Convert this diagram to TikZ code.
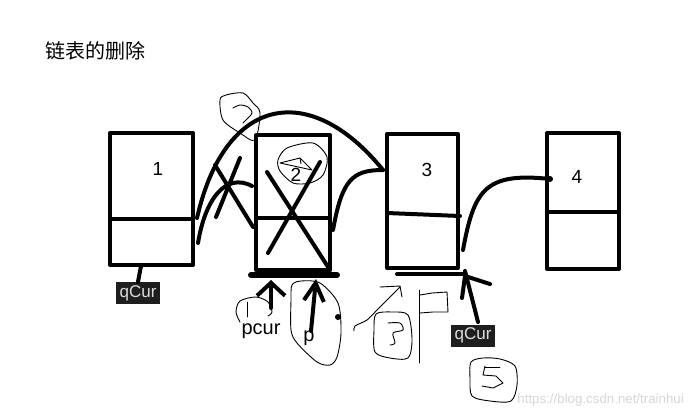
\documentclass[tikz,border=0pt]{standalone}
\usepackage{fontspec}
\setmainfont{Liberation Sans}
\newfontfamily\cjk{Noto Sans CJK SC}
\usetikzlibrary{arrows.meta}
\definecolor{tagbg}{RGB}{30,30,30}
\definecolor{tagfg}{RGB}{220,220,220}
\definecolor{wm}{RGB}{215,215,215}
\begin{document}
\begin{tikzpicture}[x=1pt,y=-1pt,line cap=round,line join=round,
  thickline/.style={line width=4pt},
  pen/.style={line width=0.9pt},
  boxnode/.style={draw,line width=4pt,inner sep=0pt,outer sep=0pt},
  num/.style={font=\fontsize{19}{20}\selectfont,inner sep=0pt},
  tag/.style={fill=tagbg,text=tagfg,font=\fontsize{17}{18}\selectfont,minimum width=44pt,minimum height=22pt,inner sep=0pt},
  lbl/.style={font=\fontsize{20}{22}\selectfont,inner sep=0pt},
  barbA/.style={-{Straight Barb[length=13pt,width=28pt]}},
  barbB/.style={-{Straight Barb[length=18pt,width=20pt]}}]
\useasboundingbox[fill=white] (0,0) rectangle (690,416);

% title
\node[font=\cjk\fontsize{20}{22}\selectfont,inner sep=0pt] (title) at (95,51) {链表的删除};

% boxes
\node[boxnode,minimum width=83pt,minimum height=132pt] (b1) at (151.5,199) {};
\node[boxnode,minimum width=74pt,minimum height=135pt] (b2) at (293,202.5) {};
\node[boxnode,minimum width=71pt,minimum height=134pt] (b3) at (422.5,201) {};
\node[boxnode,minimum width=72pt,minimum height=136pt] (b4) at (583,201) {};
\draw[thickline] (b1.west |- 0,219) -- (b1.east |- 0,219);
\draw[thickline] (b2.west |- 0,218) -- (b2.east |- 0,218);
\draw[thickline] (b3.west |- 0,213) -- (460,216);
\draw[thickline] (b4.west |- 0,212) -- (b4.east |- 0,212);
% extra bottom strokes
\draw[line width=6pt] (251,275) -- (337,275);
\draw[thickline] (397,274) -- (463,274);

% numbers
\node[num] (n1) at (158,169) {1};
\node[num] (n2) at (296,175) {2};
\node[num] (n3) at (427,170) {3};
\node[num] (n4) at (577,177) {4};

% links
\coordinate (l1s) at (198,243);
\coordinate (l1e) at (252,186);
\coordinate (las) at (197,218);
\coordinate (lae) at (383,170);
\coordinate (l2s) at (333,230);
\coordinate (l3s) at (463,250);
\coordinate (l3e) at (550,179);
\draw[thickline] (l1s) .. controls (205,200) and (225,172) .. (l1e);
\draw[thickline] (las) .. controls (225,95) and (310,80) .. (lae);
\draw[thickline] (l2s) .. controls (342,180) and (352,170) .. (lae);
\draw[thickline] (l3s) .. controls (474,190) and (485,172) .. (l3e);
\fill (l3e) circle (3);

% crosses
\draw[thickline] (240,158) -- (216,217);
\draw[thickline] (215,165) -- (253,227);
\draw[thickline] (267,172) -- (330,270);
\draw[thickline] (320,162) -- (268,253);

% qCur left
\node[tag] (q1) at (138,293) {qCur};
\draw[thickline] (141,266) -- (q1.north);

% pcur and p arrows
\node[lbl] (pcur) at (261,331) {pcur};
\node[lbl] (p) at (309,338) {p};
\coordinate (pct) at (271,308);
\coordinate (pch) at (271,280);
\draw[thickline,barbA] (pct) -- (pch);
\coordinate (ptl) at (311,331);
\coordinate (phd) at (316,279);
\draw[thickline,barbB] (ptl) -- (phd);

% qCur right
\node[tag] (q2) at (473,335.5) {qCur};
\coordinate (qt) at (478,322);
\coordinate (qh) at (465,271);
\draw[thickline] (qt) -- (qh);
\draw[thickline] (462,298) -- (465,276) -- (490,284);

% hand scribbles
\draw[pen] plot[smooth cycle] coordinates {(220,100) (226,95) (243,93) (253,103) (260,113) (255,140) (240,133) (223,120)};
\draw[pen] plot[smooth] coordinates {(233,108) (240,105) (248,107) (252,113) (246,120) (243,123)};
\draw[pen] plot[smooth cycle] coordinates {(278,160) (287,148) (313,143) (327,157) (323,175) (310,183) (293,183) (280,171)};
\draw[pen] (280,163) -- (300,158) -- (312,170) -- cycle;
\draw[pen] (300,158) -- (301,164);
% circle 1
\draw[pen] plot[smooth] coordinates {(240,322) (236,312) (240,301) (256,297) (268,302) (272,312) (268,316)};
\draw[pen] (247,302) -- (247,317);
% circle around p
\draw[pen] plot[smooth cycle] coordinates {(292,285) (301,281) (320,283) (338,303) (341,333) (337,357) (330,365) (317,362) (297,343) (291,330) (291,300)};
\fill (338,317) circle (3);
% circle 3 with arrow
\draw[pen] plot[smooth] coordinates {(354,331) (355,326) (367,320) (377,310) (387,300) (400,287)};
\draw[pen] (380,287) -- (400,286) -- (402,297);
\draw[pen] plot[smooth cycle] coordinates {(376,314) (392,312) (408,315) (412,340) (408,358) (390,358) (375,352) (374,330)};
\draw[pen] plot[smooth] coordinates {(388,323) (400,323) (403,330) (393,333) (395,343) (390,345)};
% P
\draw[pen] (419,290) -- (419,363);
\draw[pen] (420,295) -- (432,293) -- (447,292) -- (448,312) -- (433,312) -- (420,313);
% circle 5
\draw[pen] plot[smooth cycle] coordinates {(471,362) (483,358) (500,359) (515,366) (517,385) (511,401) (490,401) (472,396) (470,378)};
\draw[pen] (485,366) -- (483,375) -- (496,376) -- (503,383) -- (493,388) -- (482,386);
\draw[pen] (485,367) -- (500,367);

% watermark
\node[font=\fontsize{13.3}{14}\selectfont,text=wm,anchor=east,inner sep=0pt] (wmk) at (684,400) {https://blog.csdn.net/trainhui};
\end{tikzpicture}
\end{document}
